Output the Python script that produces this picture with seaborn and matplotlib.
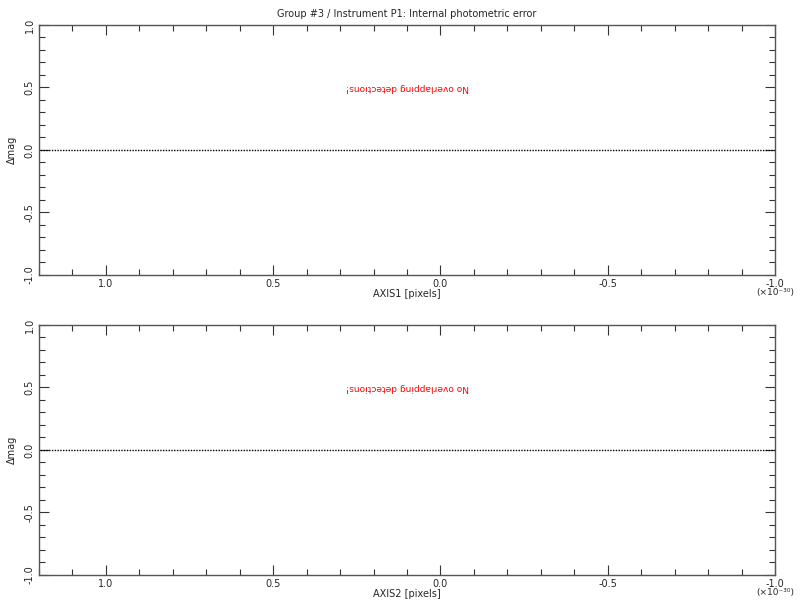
import numpy as np
import matplotlib
matplotlib.use("Agg")
import matplotlib.pyplot as plt
from matplotlib.ticker import MultipleLocator, FixedLocator
import pandas as pd
import seaborn as sns

# data
title = "Group #3 / Instrument P1: Internal photometric error"
axis_names = ["AXIS1 [pixels]", "AXIS2 [pixels]"]
x_limits = [1.2, -1.0]
y_limits = [-1.0, 1.0]
zero_x = [1.2, -1.0]
zero_y = [0.0, 0.0]
x_major = [1.0, 0.5, 0.0, -0.5, -1.0]
y_major = [-1.0, -0.5, 0.0, 0.5, 1.0]
message = "No overlapping detections!"
scale_note = "(\u00d710\u207b\u00b3\u2070)"

sns.set_style("ticks")
plt.rcParams["font.family"] = ["DejaVu Sans"]

fig = plt.figure(figsize=(8, 6), dpi=100)
positions = [[0.04875, 0.5417, 0.92, 0.4167], [0.04875, 0.0417, 0.92, 0.4167]]

for i, name in enumerate(axis_names):
    ax = fig.add_axes(positions[i])
    df = pd.DataFrame({"x": zero_x, "y": zero_y})
    sns.lineplot(data=df, x="x", y="y", ax=ax, color="black",
                 linestyle=(0, (1, 1)), linewidth=1.0)
    ax.set_xlim(x_limits)
    ax.set_ylim(y_limits)
    ax.xaxis.set_major_locator(FixedLocator(x_major))
    ax.xaxis.set_minor_locator(MultipleLocator(0.1))
    ax.yaxis.set_major_locator(FixedLocator(y_major))
    ax.yaxis.set_minor_locator(MultipleLocator(0.1))
    ax.set_xticklabels([f"{v:.1f}" for v in x_major], fontsize=7)
    ax.set_yticklabels([f"{v:.1f}" for v in y_major], fontsize=7,
                       rotation=90, va="center")
    ax.tick_params(which="both", direction="in", top=True, right=True,
                   width=0.8, color="#333333")
    ax.tick_params(which="major", length=7, pad=3)
    ax.tick_params(which="minor", length=4)
    for s in ax.spines.values():
        s.set_linewidth(1.0)
        s.set_color("#555555")
    ax.set_xlabel(name, fontsize=7, labelpad=0)
    ax.set_ylabel("\u0394mag", fontsize=7, labelpad=6)
    ax.text(0.5, 0.75, message, transform=ax.transAxes, color="red",
            fontsize=6.5, rotation=180, ha="center", va="center")
    ax.text(1.0, -0.054, scale_note, transform=ax.transAxes, fontsize=6.5,
            ha="center", va="top")
    if i == 0:
        ax.set_title(title, fontsize=7, pad=6)

fig.savefig("out.png", dpi=100, facecolor="white")
